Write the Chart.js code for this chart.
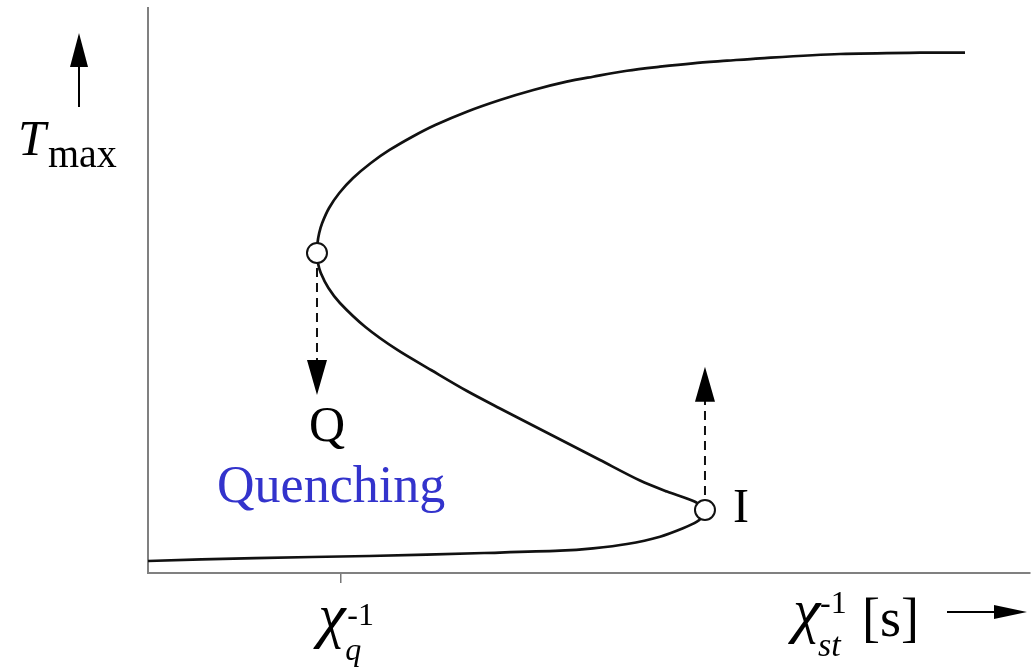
<!DOCTYPE html>
<html>
<head>
<meta charset="utf-8">
<script src="https://cdn.jsdelivr.net/npm/chart.js@4/dist/chart.umd.min.js"></script>
<style>
  html, body { margin: 0; padding: 0; background: #fff; overflow: hidden; }
  #chart { display: block; }
</style>
</head>
<body>
<canvas id="chart" width="1034" height="667"></canvas>
<script>
// Tmax vs inverse strain rate. Lower (weakly burning) branch runs up to the ignition point I,
// the middle branch runs back from I to the quenching point Q and turns into the upper branch.
const lowerX = [0, 12.13, 25.06, 38.10, 46.71, 50.45, 54.31, 58.05, 60.66, 62.24, 62.81, 63.15];
const lowerY = [2.12, 2.65, 3.01, 3.54, 3.95, 4.37, 5.13, 6.42, 7.91, 9.08, 9.96, 11.15];

const upperX = [63.15, 62.02, 58.84, 55.78, 51.25, 47.51, 43.65, 39.91, 36.17, 32.09, 28.28, 24.65,
  21.76, 20.46, 19.59, 19.27, 19.16,
  19.22, 19.41, 19.75, 20.53, 21.69, 23.25, 25.27, 27.39, 29.97, 32.57, 36.15, 39.91, 43.69,
  47.47, 50.45, 54.31, 58.05, 61.79, 65.65, 69.39, 78.46, 87.53, 92.63];
const upperY = [11.15, 12.62, 14.42, 16.37, 20.0, 23.01, 26.11, 29.12, 32.21, 35.93, 39.47, 43.54,
  47.79, 50.44, 53.1, 54.87, 56.64,
  58.41, 60.18, 61.95, 64.6, 67.26, 69.91, 72.57, 74.87, 77.22, 79.29, 81.65, 83.72, 85.49,
  86.96, 87.84, 88.9, 89.61, 90.21, 90.67, 91.1, 91.86, 92.09, 92.09];

// turning points: quenching (Q) and ignition (I)
const turnX = [19.16, 63.15];
const turnY = [56.64, 11.15];
// where the dashed jumps end
const jumpTo = [31.5, 36.5];

// the one tick on the x axis
const tickValues = [21.8];

const serif = '"Liberation Serif", "Times New Roman", serif';

const pts = (xs, ys) => xs.map((v, i) => ({ x: v, y: ys[i] }));

function head(ctx, tx, ty, dx, dy, len, hw) {
  const bx = tx - dx * len, by = ty - dy * len;
  ctx.beginPath();
  ctx.moveTo(tx, ty);
  ctx.lineTo(bx - dy * hw, by + dx * hw);
  ctx.lineTo(bx + dy * hw, by - dx * hw);
  ctx.closePath();
  ctx.fill();
}

const notes = {
  id: 'notes',
  afterDraw(chart) {
    const { ctx, scales: { x, y } } = chart;
    ctx.save();
    ctx.fillStyle = '#000';
    ctx.strokeStyle = '#000';

    // heads of the dashed jumps
    head(ctx, x.getPixelForValue(turnX[0]), y.getPixelForValue(jumpTo[0]), 0, 1, 35, 10);
    head(ctx, x.getPixelForValue(turnX[1]), y.getPixelForValue(jumpTo[1]), 0, -1, 35, 10);

    // axis direction arrows
    ctx.lineWidth = 2;
    ctx.beginPath();
    ctx.moveTo(79, 107); ctx.lineTo(79, 62);
    ctx.moveTo(947, 612); ctx.lineTo(1000, 612);
    ctx.stroke();
    head(ctx, 79, 33, 0, -1, 34, 9);
    head(ctx, 1027, 612, 1, 0, 33, 7);

    ctx.textBaseline = 'alphabetic';
    ctx.textAlign = 'left';
    ctx.font = 'italic 50px ' + serif;
    ctx.fillText('T', 18, 155);
    ctx.font = '40px ' + serif;
    ctx.fillText('max', 48, 167);

    ctx.textAlign = 'center';
    ctx.font = '50px ' + serif;
    ctx.fillText('Q', x.getPixelForValue(turnX[0]) + 10, 441);
    ctx.textAlign = 'left';
    ctx.font = '48px ' + serif;
    ctx.fillText('I', 733, 522);

    ctx.fillStyle = '#3333cc';
    ctx.font = '52px ' + serif;
    ctx.fillText('Quenching', 217, 502);

    // tick label chi_q^-1
    ctx.fillStyle = '#000';
    const tx = x.getPixelForValue(tickValues[0]);
    ctx.font = 'italic 62px ' + serif;
    ctx.fillText('\u03c7', tx - 22, 636);
    ctx.font = '32px ' + serif;
    ctx.fillText('-1', tx + 7, 625);
    ctx.font = 'italic 32px ' + serif;
    ctx.fillText('q', tx + 5, 660);

    // axis title chi_st^-1 [s]
    ctx.font = 'italic 62px ' + serif;
    ctx.fillText('\u03c7', 793, 631);
    ctx.font = '32px ' + serif;
    ctx.fillText('-1', 820, 613);
    ctx.font = 'italic 34px ' + serif;
    ctx.fillText('st', 818, 656);
    ctx.font = '54px ' + serif;
    ctx.fillText('[s]', 862, 636);
    ctx.restore();
  }
};

const lineStyle = { showLine: true, borderColor: '#111', borderWidth: 2.7, tension: 0.3, pointRadius: 0 };
const dashStyle = { showLine: true, borderColor: '#111', borderWidth: 2, borderDash: [9, 6], pointRadius: 0 };

function draw() {
  new Chart(document.getElementById('chart'), {
    type: 'scatter',
    data: {
      datasets: [
        {
          data: pts(turnX, turnY),
          pointRadius: 10,
          pointBorderWidth: 2,
          pointBackgroundColor: '#fff',
          pointBorderColor: '#111',
          showLine: false
        },
        { ...lineStyle, data: pts(lowerX, lowerY) },
        { ...lineStyle, data: pts(upperX, upperY) },
        { ...dashStyle, data: [{ x: turnX[0], y: turnY[0] }, { x: turnX[0], y: jumpTo[0] + 3 }] },
        { ...dashStyle, data: [{ x: turnX[1], y: turnY[1] }, { x: turnX[1], y: jumpTo[1] - 3 }] }
      ]
    },
    options: {
      responsive: false,
      animation: false,
      layout: { autoPadding: false, padding: { top: 8, right: 4, left: 0, bottom: 0 } },
      plugins: { legend: { display: false }, tooltip: { enabled: false } },
      scales: {
        x: {
          type: 'linear',
          min: 0,
          max: 100,
          afterBuildTicks: s => { s.ticks = tickValues.map(v => ({ value: v })); },
          afterFit: s => { s.height = 94; },
          grid: { drawOnChartArea: false, drawTicks: true, tickLength: 10, color: '#777', lineWidth: 1.5 },
          border: { display: true, color: '#808080', width: 2 },
          ticks: { display: false }
        },
        y: {
          type: 'linear',
          min: 0,
          max: 100,
          afterFit: s => { s.width = 148; },
          grid: { display: false },
          border: { display: true, color: '#808080', width: 2 },
          ticks: { display: false }
        }
      }
    },
    plugins: [notes]
  });
}

Promise.all([
  document.fonts.load('50px "Liberation Serif"'),
  document.fonts.load('italic 50px "Liberation Serif"')
]).then(draw, draw);
</script>
</body>
</html>
